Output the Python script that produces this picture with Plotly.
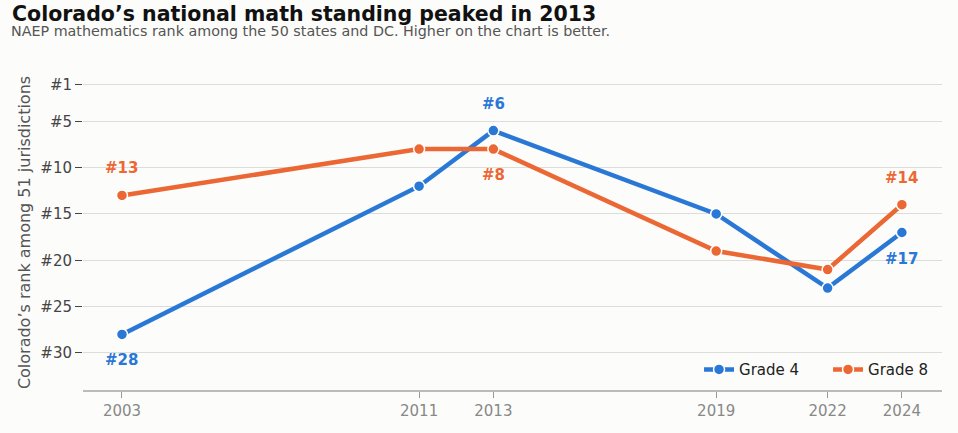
import plotly.graph_objects as go

years = [2003, 2011, 2013, 2019, 2022, 2024]
grade4 = [28, 12, 6, 15, 23, 17]
grade8 = [13, 8, 8, 19, 21, 14]
ytick_vals = [1, 5, 10, 15, 20, 25, 30]
ytick_text = ["#1", "#5", "#10", "#15", "#20", "#25", "#30"]

BLUE = "#2a78d6"
ORANGE = "#eb6834"
FONT = "DejaVu Sans"
W, H = 958, 433
ML, MR, MT, MB = 83, 16, 75, 43
PW = W - ML - MR
PH = H - MT - MB

fig = go.Figure()
for name, vals, col in [("Grade 4", grade4, BLUE), ("Grade 8", grade8, ORANGE)]:
    fig.add_trace(go.Scatter(
        x=years, y=vals, name=name, mode="lines+markers",
        line=dict(color=col, width=4.5),
        marker=dict(size=11, color=col, line=dict(color="white", width=1.5)),
    ))

# labels: (year, value, color, offset px; negative = above)
labels = [
    (years[0], grade4[0], BLUE, 26),
    (years[0], grade8[0], ORANGE, -27),
    (years[2], grade4[2], BLUE, -27),
    (years[2], grade8[2], ORANGE, 26),
    (years[5], grade8[5], ORANGE, -27),
    (years[5], grade4[5], BLUE, 26),
]
for x, v, c, off in labels:
    fig.add_annotation(x=x, y=v, text=f"<b>#{v}</b>", showarrow=False,
                       yshift=-off, font=dict(color=c, size=15, family=FONT))

fig.update_layout(
    width=W, height=H,
    paper_bgcolor="#fcfcfa", plot_bgcolor="#fcfcfa",
    margin=dict(l=ML, r=MR, t=MT, b=MB, autoexpand=False),
    font=dict(family=FONT, color="#444"),
    title=dict(
        text="<b>Colorado’s national math standing peaked in 2013</b>",
        x=12 / W, xanchor="left", y=1 - 14 / H, yanchor="middle",
        font=dict(size=20.5, color="#111", family=FONT),
    ),
    showlegend=True,
    legend=dict(orientation="h", xref="container", x=0.999, xanchor="right",
                y=0.012, yanchor="bottom",
                font=dict(size=15, color="#222"), bgcolor="rgba(0,0,0,0)",
                entrywidth=84, entrywidthmode="pixels"),
    xaxis=dict(
        range=[2001.95, 2025.08], tickvals=years, ticktext=[str(y) for y in years],
        showgrid=False, zeroline=False, showline=True, linecolor="#bbb", linewidth=1.5,
        ticks="outside", ticklen=6, tickcolor="#999",
        tickfont=dict(size=15, color="#888"),
    ),
    yaxis=dict(
        range=[34, 0], tickvals=ytick_vals, ticktext=ytick_text,
        showgrid=True, gridcolor="#dcdcd8", gridwidth=1, zeroline=False, showline=False,
        ticks="outside", ticklen=7, tickcolor="#444",
        tickfont=dict(size=15, color="#444"),
        title=dict(text="Colorado’s rank among 51 jurisdictions", font=dict(size=16, color="#555"),
                   standoff=5),
    ),
)
fig.add_annotation(
    text="NAEP mathematics rank among the 50 states and DC. Higher on the chart is better.",
    xref="paper", yref="paper", x=(9 - ML) / PW, y=1 + (MT - 31) / PH,
    xanchor="left", yanchor="middle", showarrow=False,
    font=dict(size=14.3, color="#555", family=FONT),
)
fig.write_html("out.html", config={"displayModeBar": False},
               post_script="document.body.style.margin='0';document.body.style.overflow='hidden';")
